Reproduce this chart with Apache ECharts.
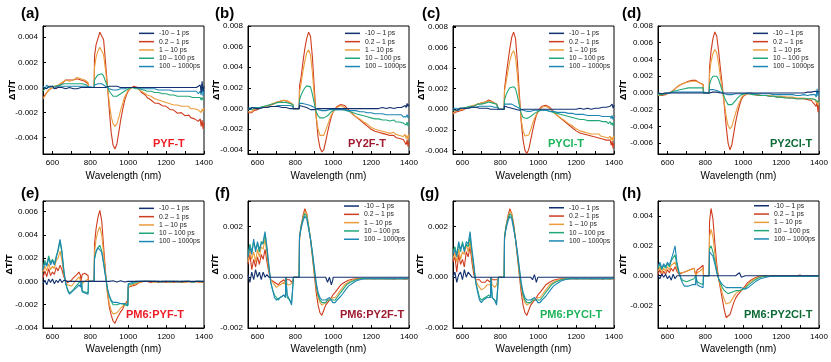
<!DOCTYPE html>
<html><head><meta charset="utf-8">
<script src="https://cdn.jsdelivr.net/npm/echarts@6/dist/echarts.min.js"></script>
<style>html,body{margin:0;padding:0;background:#fff}#c{width:831px;height:362px}</style>
</head><body><div id="c"></div>
<script>
// Wavelength grids (nm)
const wlTop = [550,560,570,580,590,600,610,620,630,640,650,660,670,680,690,700,710,720,730,740,750,760,770,780,788,
790,820,
822,830,840,850,860,870,880,890,900,910,920,930,940,950,960,970,980,990,1000,1010,1020,1030,1040,1050,1060,1070,1080,1090,1100,
1120,1140,1160,1180,1200,1220,1240,1260,1280,1300,
1310,1320,1330,1340,1350,1360,1370,1380,1385,1390,1395,1400];
const wlBot = [550,560,570,580,590,600,610,620,630,640,650,660,670,680,690,700,710,720,730,740,748,
750,756,
757,770,780,788,
790,820,
822,830,840,850,860,870,880,890,900,910,920,930,940,950,960,970,980,990,998,
1000,1010,1020,1030,1040,1050,1060,1070,1080,1090,1100,
1120,1140,1160,1180,1200,1220,1240,1260,1280,1300,1320,1340,1360,1380,1400];

const legendNames = ['-10 \u2013 1 ps','0.2 \u2013 1 ps','1 \u2013 10 ps','10 \u2013 100 ps','100 \u2013 1000ps'];
const panelLetters = ['(a)','(b)','(c)','(d)','(e)','(f)','(g)','(h)'];
const sampleNames = ['PYF-T','PY2F-T','PYCl-T','PY2Cl-T','PM6:PYF-T','PM6:PY2F-T','PM6:PYCl-T','PM6:PY2Cl-T'];

// ΔT/T values, in units of 1e-3
const aNavy = [0.0,0.1,-0.1,0.1,0.0,0.1,-0.1,0.0,0.0,-0.1,0.0,-0.1,-0.1,-0.1,0.0,-0.1,-0.1,0.0,-0.1,-0.1,0.0,-0.1,0.0,0.0,0.0,
0,0,
0.1,0.1,0.0,0.0,0.0,0.0,0.0,0.0,0.1,0.1,0.1,0.0,0.1,0.1,0.0,0.1,0.0,0.1,0,0,0,0,0,0,0,0,0,0,0,
0,0,0,0,0,0,0,0,0,0,
0.0,0.0,0.1,0.0,0.1,0.0,0.1,0.2,-0.4,0.5,-0.3,0.1];
const aRed = [-0.8,-0.6,-0.5,-0.2,-0.3,0.0,0.1,-0.1,0.1,0.2,0.3,0.4,0.6,0.5,0.6,0.5,0.6,0.6,0.7,0.7,0.6,0.6,0.5,0.4,0.3,
0,0,
2.5,3.4,3.9,4.4,4.5,3.8,2.0,0.2,-1.8,-3.6,-4.6,-4.9,-4.5,-3.6,-2.6,-1.8,-1.1,-0.6,-0.3,-0.1,0.0,0.1,0.1,0.0,-0.2,-0.4,-0.5,-0.6,-0.8,
-1.0,-1.25,-1.25,-1.45,-1.5,-1.75,-1.8,-2.05,-2.0,-2.25,
-2.3,-2.2,-2.4,-2.3,-2.5,-2.4,-2.7,-2.5,-3.1,-2.6,-3.3,-2.8];
const aOrange = [-0.9,-0.7,-0.4,-0.3,-0.1,-0.1,0.1,0.0,0.2,0.3,0.4,0.5,0.6,0.6,0.5,0.6,0.6,0.7,0.8,0.8,0.7,0.6,0.6,0.5,0.4,
0,0,
1.6,2.4,2.9,3.2,3.2,2.6,1.4,0.1,-1.2,-2.3,-2.9,-3.1,-2.9,-2.4,-1.8,-1.3,-0.8,-0.5,-0.2,-0.1,0.0,0.1,0.0,-0.1,-0.2,-0.3,-0.4,-0.5,-0.6,
-0.7,-0.9,-1.0,-1.1,-1.2,-1.3,-1.4,-1.4,-1.5,-1.5,
-1.6,-1.5,-1.7,-1.6,-1.7,-1.6,-1.8,-1.7,-2.0,-1.7,-1.9,-1.6];
const aGreen = [-0.3,-0.1,-0.2,0.0,-0.1,0.1,0.0,0.1,0.1,0.2,0.2,0.3,0.3,0.3,0.3,0.3,0.3,0.3,0.3,0.3,0.3,0.3,0.3,0.2,0.2,
0,0,
0.6,0.8,1.0,1.1,1.1,0.9,0.5,0.1,-0.3,-0.5,-0.7,-0.7,-0.7,-0.6,-0.5,-0.4,-0.3,-0.2,-0.1,0.0,0.0,0.0,-0.1,-0.1,-0.1,-0.2,-0.2,-0.2,-0.3,
-0.3,-0.4,-0.4,-0.5,-0.5,-0.6,-0.6,-0.7,-0.7,-0.7,
-0.8,-0.7,-0.8,-0.8,-0.9,-0.8,-0.9,-0.8,-1.0,-0.8,-1.0,-0.9];
const aTeal = [0.1,-0.1,0.2,0.0,0.1,0.1,-0.1,0.1,0.0,0.1,0.1,0.1,0.1,0.1,0.1,0.1,0.1,0.1,0.1,0.1,0.1,0.1,0.1,0.1,0.1,
0,0,
0.2,0.2,0.3,0.3,0.3,0.2,0.1,0.0,-0.1,-0.1,-0.2,-0.2,-0.2,-0.1,-0.1,-0.1,-0.1,0.0,0.0,0.0,0.0,0.0,0.0,0.0,-0.1,-0.1,-0.1,-0.1,-0.1,
-0.1,-0.1,-0.2,-0.2,-0.2,-0.2,-0.3,-0.3,-0.3,-0.3,
-0.4,-0.3,-0.4,-0.3,-0.4,-0.3,-0.5,-0.3,-0.6,0.3,-0.7,-0.2];

const bNavy = [0.1,-0.1,0.1,0.0,0.0,0.1,0.0,0.1,0.1,0.1,0.1,0.2,0.2,0.2,0.2,0.2,0.2,0.1,0.1,0.1,0.1,0.0,0.0,0.0,0.0,
0,0,
0.3,0.2,0.2,0.1,0.1,0.0,-0.1,-0.1,-0.1,-0.1,0,0,0,0,0,0,0,0,0,0,0,0,0,0,0,0,0,0,0,
0,0,0,0,0,0,0,0.1,0,0.1,
0.1,0.0,0.1,0.1,0.2,0.1,0.2,0.3,0.1,0.5,0.2,0.4];
const bRed = [-0.4,-0.3,-0.4,-0.2,-0.2,-0.1,0.0,0.1,0.1,0.2,0.2,0.3,0.4,0.4,0.5,0.6,0.6,0.7,0.8,0.8,0.8,0.7,0.6,0.5,0.3,
0,0,
2.2,3.0,4.5,5.8,6.8,7.4,7.0,5.0,2.0,-0.8,-2.8,-3.8,-4.2,-4.0,-3.2,-2.3,-1.5,-0.8,-0.3,0.0,0.2,0.3,0.4,0.4,0.3,0.1,-0.1,-0.3,-0.5,
-0.8,-1.1,-1.4,-1.7,-2.0,-2.2,-2.3,-2.4,-2.5,-2.6,
-2.7,-2.6,-2.8,-2.7,-2.9,-2.8,-3.0,-2.9,-3.5,-3.0,-3.7,-3.2];
const bOrange = [-0.3,-0.2,-0.3,-0.1,-0.1,0.0,0.0,0.1,0.2,0.2,0.3,0.3,0.4,0.5,0.5,0.6,0.6,0.7,0.7,0.8,0.7,0.7,0.6,0.5,0.4,
0,0,
1.6,2.4,3.6,4.6,5.4,5.7,5.2,3.5,1.2,-0.8,-2.0,-2.6,-2.7,-2.6,-2.1,-1.6,-1.1,-0.6,-0.3,-0.1,0.1,0.2,0.3,0.2,0.1,0.0,-0.2,-0.3,-0.5,
-0.8,-1.0,-1.3,-1.5,-1.8,-2.0,-2.1,-2.2,-2.3,-2.4,
-2.4,-2.3,-2.5,-2.4,-2.6,-2.5,-2.7,-2.5,-2.9,-2.6,-3.0,-2.5];
const bGreen = [-0.1,0.1,-0.1,0.0,0.1,0.0,0.1,0.1,0.2,0.2,0.3,0.3,0.4,0.4,0.5,0.5,0.6,0.6,0.6,0.6,0.6,0.6,0.5,0.5,0.4,
0,0,
0.8,1.3,1.7,2.0,2.2,2.3,2.1,1.4,0.5,-0.3,-0.7,-0.9,-0.9,-0.9,-0.8,-0.7,-0.5,-0.3,-0.2,-0.1,-0.1,-0.1,-0.1,-0.1,-0.2,-0.2,-0.3,-0.3,-0.4,
-0.5,-0.6,-0.7,-0.8,-0.9,-1.0,-1.0,-1.1,-1.1,-1.2,
-1.2,-1.1,-1.3,-1.2,-1.3,-1.2,-1.4,-1.3,-1.6,-1.3,-1.7,-1.4];
const bTeal = [0.1,-0.1,0.1,0.0,0.1,0.1,0.0,0.1,0.1,0.1,0.1,0.2,0.2,0.2,0.2,0.3,0.3,0.3,0.3,0.3,0.3,0.3,0.3,0.2,0.2,
0,0,
0.5,0.5,0.5,0.5,0.4,0.4,0.3,0.2,0.1,0.0,-0.1,-0.2,-0.2,-0.2,-0.2,-0.1,-0.1,-0.1,-0.1,-0.1,-0.1,-0.1,-0.1,-0.1,-0.1,-0.2,-0.2,-0.2,-0.2,
-0.2,-0.3,-0.3,-0.4,-0.4,-0.5,-0.5,-0.5,-0.6,-0.6,
-0.6,-0.6,-0.7,-0.6,-0.7,-0.6,-0.8,-0.7,-0.8,-0.6,-0.9,-0.7];

const cNavy = [0.0,0.1,-0.1,0.0,0.1,0.0,0.1,0.1,0.1,0.1,0.2,0.1,0.2,0.2,0.1,0.2,0.1,0.1,0.1,0.1,0.0,0.1,0.0,0.0,0.0,
0,0,
0.3,0.3,0.2,0.2,0.1,0.1,0.0,-0.1,-0.1,-0.1,0,0,0,0,0,0,0,0,0,0,0,0,0,0,0,0,0,0,0,
0,0,0,0,0,0.1,0,0.1,0,0.1,
0.1,0.1,0.1,0.2,0.1,0.2,0.2,0.3,0.2,0.5,0.1,0.4];
const cRed = [-0.5,-0.3,-0.4,-0.2,-0.1,-0.1,0.0,0.1,0.2,0.2,0.3,0.3,0.4,0.5,0.5,0.6,0.7,0.7,0.8,0.9,0.8,0.7,0.6,0.5,0.4,
0,0,
2.0,3.2,4.6,5.9,7.0,7.5,6.9,4.6,1.6,-1.2,-3.0,-4.0,-4.3,-3.9,-3.0,-2.1,-1.3,-0.6,-0.2,0.1,0.3,0.4,0.4,0.3,0.2,0.0,-0.2,-0.4,-0.6,
-0.9,-1.2,-1.5,-1.8,-2.1,-2.3,-2.4,-2.5,-2.6,-2.7,
-2.7,-2.8,-2.8,-2.9,-2.9,-3.0,-3.1,-3.0,-3.5,-3.1,-3.8,-3.3];
const cOrange = [-0.4,-0.2,-0.3,-0.1,-0.1,0.0,0.1,0.1,0.2,0.3,0.3,0.4,0.4,0.5,0.6,0.6,0.6,0.7,0.8,0.8,0.7,0.7,0.6,0.5,0.4,
0,0,
1.8,2.6,3.7,4.7,5.4,5.7,5.1,3.3,1.0,-1.0,-2.1,-2.6,-2.7,-2.5,-2.0,-1.4,-0.9,-0.5,-0.2,0.0,0.2,0.3,0.3,0.2,0.1,-0.1,-0.3,-0.4,-0.6,
-0.9,-1.1,-1.4,-1.6,-1.9,-2.1,-2.2,-2.3,-2.4,-2.4,
-2.5,-2.4,-2.6,-2.5,-2.7,-2.6,-2.8,-2.6,-3.0,-2.7,-3.1,-2.6];
const cGreen = [-0.1,0.0,-0.1,0.1,0.0,0.1,0.1,0.2,0.2,0.3,0.3,0.3,0.4,0.5,0.5,0.5,0.6,0.6,0.6,0.7,0.6,0.6,0.5,0.5,0.4,
0,0,
0.9,1.4,1.8,2.1,2.2,2.2,2.0,1.3,0.4,-0.4,-0.8,-0.9,-0.9,-0.8,-0.7,-0.6,-0.4,-0.3,-0.2,-0.1,-0.1,-0.1,-0.1,-0.2,-0.2,-0.3,-0.3,-0.4,-0.4,
-0.5,-0.6,-0.7,-0.8,-0.9,-1.0,-1.0,-1.1,-1.1,-1.1,
-1.2,-1.1,-1.2,-1.2,-1.3,-1.2,-1.4,-1.2,-1.5,-1.3,-1.6,-1.3];
const cTeal = [0.1,0.0,0.1,-0.1,0.1,0.1,0.1,0.1,0.1,0.2,0.2,0.2,0.2,0.2,0.3,0.3,0.3,0.3,0.3,0.3,0.3,0.3,0.2,0.2,0.2,
0,0,
0.5,0.6,0.5,0.5,0.5,0.4,0.3,0.2,0.1,0.0,-0.1,-0.2,-0.2,-0.2,-0.2,-0.2,-0.1,-0.1,-0.1,-0.1,-0.1,-0.1,-0.1,-0.1,-0.2,-0.2,-0.2,-0.2,-0.3,
-0.3,-0.3,-0.4,-0.4,-0.5,-0.5,-0.5,-0.6,-0.6,-0.6,
-0.7,-0.6,-0.7,-0.7,-0.8,-0.7,-0.8,-0.7,-0.9,-0.6,-1.0,-0.8];

const dNavy = [0.0,0.0,-0.1,0.0,0.0,0.0,0.0,0.0,0.0,0.0,0.0,0.0,0.0,0.0,0.0,0.0,0.0,0.0,0.0,0.0,0.0,0.0,0.0,0.0,0.0,
0,0,
0.2,0.2,0.1,0.1,0.1,0,0,0,0,0,0,0,0,0,0,0,0,0,0,0,0,0,0,0,0,0,0,0,0,
0,0,0,0,0,0,0,0,0,0,
0.0,0.0,0.0,0.1,0.0,0.1,0.0,0.2,0.0,0.3,0.1,0.2];
const dRed = [-0.3,-0.2,-0.3,-0.2,-0.2,-0.1,0.0,0.1,0.3,0.5,0.7,0.9,1.0,1.1,1.2,1.3,1.4,1.4,1.5,1.4,1.5,1.3,1.2,1.1,1.0,
0,0,
3.0,5.0,6.5,7.3,6.8,5.0,2.8,0.8,-1.5,-4.0,-6.0,-6.8,-6.2,-4.8,-3.5,-2.4,-1.5,-0.8,-0.4,-0.2,-0.1,-0.1,-0.1,-0.2,-0.2,-0.2,-0.3,-0.3,-0.3,
-0.3,-0.4,-0.4,-0.5,-0.5,-0.5,-0.6,-0.6,-0.7,-0.7,
-0.8,-0.7,-0.9,-0.8,-1.0,-0.9,-1.2,-1.0,-1.6,-1.1,-2.3,-1.5];
const dOrange = [-0.3,-0.3,-0.2,-0.2,-0.1,-0.1,0.0,0.2,0.3,0.5,0.7,0.9,1.0,1.1,1.2,1.3,1.3,1.4,1.4,1.5,1.4,1.3,1.2,1.1,1.0,
0,0,
2.2,3.7,4.7,5.2,4.8,3.5,1.8,0.3,-1.2,-2.8,-3.9,-4.3,-4.0,-3.2,-2.4,-1.7,-1.1,-0.6,-0.3,-0.2,-0.1,-0.1,-0.1,-0.1,-0.2,-0.2,-0.2,-0.2,-0.3,
-0.3,-0.3,-0.4,-0.4,-0.4,-0.5,-0.5,-0.5,-0.6,-0.6,
-0.7,-0.6,-0.7,-0.7,-0.8,-0.7,-0.9,-0.8,-1.2,-0.9,-1.5,-1.0];
const dGreen = [-0.2,-0.1,-0.2,-0.1,-0.1,0.0,0.0,0.1,0.2,0.2,0.3,0.4,0.4,0.5,0.5,0.6,0.6,0.6,0.6,0.6,0.6,0.6,0.6,0.6,0.6,
0,0,
1.0,1.6,2.0,2.1,2.0,1.6,0.9,0.2,-0.5,-1.0,-1.4,-1.5,-1.4,-1.2,-0.9,-0.6,-0.4,-0.2,-0.1,-0.1,-0.1,-0.1,-0.1,-0.2,-0.2,-0.2,-0.3,-0.3,-0.3,
-0.3,-0.4,-0.4,-0.5,-0.5,-0.6,-0.6,-0.6,-0.7,-0.7,
-0.7,-0.7,-0.8,-0.7,-0.8,-0.7,-0.9,-0.8,-1.0,-0.7,-1.1,-0.9];
const dTeal = [0.0,0.1,-0.1,0.1,0.0,0.1,0.0,0.1,0.1,0.1,0.1,0.1,0.1,0.1,0.1,0.1,0.1,0.1,0.1,0.1,0.1,0.1,0.1,0.1,0.1,
0,0,
0.4,0.4,0.4,0.3,0.3,0.2,0.1,0.0,-0.1,-0.2,-0.2,-0.2,-0.2,-0.2,-0.1,-0.1,-0.1,-0.1,-0.1,0.0,0.0,0.0,0.0,-0.1,-0.1,-0.1,-0.1,-0.1,-0.1,
-0.1,-0.1,-0.2,-0.2,-0.2,-0.2,-0.2,-0.2,-0.3,-0.3,
-0.3,-0.2,-0.3,-0.3,-0.3,-0.2,-0.4,-0.2,-0.5,0.5,-0.4,0.2];

const eNavy = [-0.2,0.1,-0.3,0.2,-0.1,0.2,-0.2,0.1,-0.1,0.2,-0.1,0.1,0,0,0,0,0,0,0,0,0,
0,0, 0,0,0,0, 0,0,
0,0,0,0,0,0,0,0,0,0,0.05,0,-0.05,0,0.05,0,-0.05,0.05,0,
0,0,0,0,0,0,0,0,0,0,0,
0,0,0,0,0,0,0,0,0,0,0,0,0,0,0];
const eRed = [0.3,0.9,0.4,1.1,0.5,0.8,0.6,1.2,0.9,1.4,1.0,0.4,0.1,-0.1,0.0,0.1,0.3,0.4,0.6,0.8,0.5,
0,0, 0.6,0.7,0.6,0.5, 0,0,
3.2,4.5,5.5,6.1,5.2,3.0,0.8,-1.0,-2.2,-2.9,-3.4,-3.6,-3.2,-2.9,-2.6,-2.4,-2.0,-1.8,-1.6,
-0.5,-0.4,-0.4,-0.3,-0.3,-0.2,-0.1,-0.1,0.0,0.0,0.0,
-0.1,0.0,-0.1,0.0,-0.1,0.0,-0.1,0.0,-0.1,-0.1,0.0,-0.1,0.0,-0.1,-0.1];
const eOrange = [0.8,1.3,0.9,1.5,1.0,1.3,1.1,1.8,2.0,2.6,1.8,0.6,-0.1,-0.3,-0.4,-0.4,-0.2,0.0,0.2,0.4,0.3,
0,0, -0.2,0.0,0.1,0.2, 0,0,
2.5,3.6,4.3,4.7,4.0,2.4,0.6,-0.9,-1.9,-2.5,-2.8,-2.9,-2.7,-2.5,-2.3,-2.2,-2.0,-1.9,-1.8,
-0.5,-0.4,-0.3,-0.3,-0.2,-0.2,-0.1,-0.1,0.0,0.0,0.0,
0.0,-0.1,0.0,-0.1,0.0,-0.1,0.0,-0.1,0.0,-0.1,0.0,-0.1,0.0,-0.1,0.0];
const eGreen = [1.2,1.8,1.4,2.2,1.6,1.9,1.5,2.2,2.6,3.5,2.4,0.8,-0.2,-0.7,-1.0,-0.9,-0.7,-0.5,-0.3,-0.1,-0.2,
0,0, -0.8,-0.9,-0.9,-1.0, 0,0,
2.0,2.6,2.9,3.1,2.6,1.6,0.5,-0.6,-1.3,-1.7,-2.0,-2.1,-2.0,-2.0,-1.9,-1.9,-2.0,-2.0,-2.1,
-0.3,-0.2,-0.2,-0.1,-0.1,-0.1,0.0,0.0,0.0,0.0,0.0,
0.0,0.0,-0.05,0.0,0.0,-0.05,0.0,0.0,-0.05,0.0,0.0,-0.05,0.0,0.0,-0.05];
const eTeal = [1.0,1.6,1.3,2.0,1.4,1.8,1.4,2.0,2.8,3.6,2.6,1.0,-0.2,-0.8,-1.1,-1.0,-0.8,-0.7,-0.5,-0.3,-0.5,
0,0, -0.9,-1.0,-1.0,-1.1, 0,0,
1.9,2.5,2.9,3.0,2.5,1.5,0.4,-0.6,-1.2,-1.6,-1.8,-1.9,-1.8,-1.8,-1.9,-1.8,-1.9,-2.0,-2.0,
-0.2,-0.1,-0.1,-0.1,0.0,0.0,0.0,0.0,0.0,0.0,0.0,
0.0,0.0,0.0,-0.05,0.0,0.0,0.0,-0.05,0.0,0.0,0.0,-0.05,0.0,0.0,0.0];

const fNavy = [0.1,-0.2,0.2,-0.1,0.3,0.0,0.2,-0.1,0.2,0.0,0.1,0.0,0,0,0,0,0,0,0,0,0,
0,0, 0,0,0,0, 0,0,
0,0,0,0,0,0,0,0,0,0,0,0,0,-0.05,0,-0.2,0.0,-0.3,-0.1,
0,0,0,0,0,0,0,0,0,0,0,
0,0,0,0,0,0,0,0,0,0,0,0,0,0,0];
const fRed = [0.5,0.9,0.3,0.7,0.4,0.8,0.5,0.9,0.7,1.1,0.6,0.2,-0.1,-0.1,-0.2,-0.2,-0.3,-0.2,-0.2,-0.1,-0.2,
0,0, -0.1,-0.1,-0.2,-0.1, 0,0,
1.5,2.0,2.4,2.7,2.5,2.0,1.5,0.8,0.1,-0.6,-1.1,-1.4,-1.5,-1.3,-1.1,-1.0,-0.9,-0.8,-0.7,
-0.7,-0.6,-0.5,-0.4,-0.3,-0.25,-0.2,-0.15,-0.12,-0.1,-0.08,
-0.06,-0.05,-0.05,-0.06,-0.05,-0.07,-0.05,-0.06,-0.07,-0.05,-0.08,-0.06,-0.05,-0.08,-0.06];
const fOrange = [0.6,1.1,0.7,1.0,0.6,1.1,0.8,1.2,1.1,1.5,0.9,0.3,-0.1,-0.2,-0.3,-0.4,-0.4,-0.3,-0.3,-0.2,-0.3,
0,0, -0.3,-0.3,-0.3,-0.2, 0,0,
1.6,2.0,2.3,2.6,2.5,2.0,1.5,0.9,0.2,-0.4,-0.8,-1.0,-1.1,-1.1,-1.0,-0.9,-0.9,-0.9,-0.8,
-0.8,-0.8,-0.7,-0.6,-0.5,-0.4,-0.3,-0.25,-0.2,-0.15,-0.12,
-0.08,-0.06,-0.05,-0.06,-0.05,-0.06,-0.05,-0.07,-0.05,-0.06,-0.07,-0.05,-0.06,-0.08,-0.05];
const fGreen = [0.9,1.3,1.0,1.4,1.1,1.3,1.0,1.4,1.3,1.7,1.1,0.4,-0.2,-0.5,-0.7,-0.8,-0.9,-0.8,-0.8,-0.7,-0.8,
0,0, -0.8,-0.9,-1.0,-1.0, 0,0,
1.6,2.0,2.3,2.5,2.4,2.0,1.5,0.9,0.3,-0.3,-0.7,-0.9,-1.0,-1.0,-1.0,-0.9,-0.9,-0.9,-0.9,
-0.9,-0.9,-0.8,-0.7,-0.6,-0.5,-0.4,-0.3,-0.25,-0.2,-0.15,
-0.1,-0.07,-0.05,-0.06,-0.05,-0.06,-0.05,-0.06,-0.05,-0.07,-0.05,-0.06,-0.05,-0.06,-0.05];
const fTeal = [0.8,1.2,0.9,1.5,1.0,1.4,1.1,1.3,1.4,1.8,1.2,0.5,-0.2,-0.5,-0.8,-0.9,-0.9,-0.8,-0.8,-0.7,-0.8,
0,0, -0.7,-0.9,-1.1,-1.1, 0,0,
1.6,1.9,2.2,2.4,2.3,1.9,1.5,1.0,0.4,-0.2,-0.6,-0.8,-0.9,-0.9,-0.9,-0.9,-0.8,-0.9,-1.0,
-1.0,-1.0,-0.9,-0.85,-0.75,-0.65,-0.55,-0.45,-0.35,-0.3,-0.25,
-0.15,-0.1,-0.07,-0.06,-0.05,-0.06,-0.05,-0.06,-0.05,-0.06,-0.05,-0.06,-0.05,-0.06,-0.05];

const gNavy = [0.0,0.2,-0.2,0.1,0.2,-0.1,0.3,0.0,0.2,0.1,0.0,0.0,0,0,0,0,0,0,0,0,0,
0,0, 0,0,0,0, 0,0,
0,0,0,0,0,0,0,0,0,0,0,0,0,0,0,-0.1,0.1,-0.2,0.0,
0,0,0,0,0,0,0,0,0,0,0,
0,0,0,0,0,0,0,0,0,0,0,0,0,0,0];
const gRed = [0.6,0.8,0.2,0.9,0.5,0.7,0.4,1.0,0.8,1.2,0.6,0.1,-0.1,-0.1,-0.1,-0.2,-0.2,-0.2,-0.1,-0.1,-0.2,
0,0, -0.1,-0.1,-0.1,-0.1, 0,0,
1.5,2.0,2.4,2.7,2.5,2.1,1.5,0.8,0.1,-0.6,-1.1,-1.4,-1.5,-1.3,-1.1,-1.0,-0.9,-0.8,-0.7,
-0.7,-0.6,-0.5,-0.4,-0.3,-0.25,-0.2,-0.15,-0.12,-0.1,-0.08,
-0.06,-0.05,-0.06,-0.05,-0.07,-0.05,-0.06,-0.05,-0.07,-0.06,-0.05,-0.08,-0.05,-0.06,-0.07];
const gOrange = [0.7,1.0,0.6,1.1,0.7,1.0,0.9,1.3,1.0,1.4,0.8,0.3,-0.1,-0.3,-0.4,-0.5,-0.5,-0.4,-0.3,-0.3,-0.3,
0,0, -0.3,-0.4,-0.3,-0.3, 0,0,
1.6,2.0,2.3,2.6,2.5,2.0,1.5,0.9,0.2,-0.4,-0.8,-1.0,-1.1,-1.1,-1.0,-0.9,-0.9,-0.9,-0.8,
-0.8,-0.8,-0.7,-0.6,-0.5,-0.4,-0.3,-0.25,-0.2,-0.15,-0.12,
-0.08,-0.06,-0.05,-0.06,-0.05,-0.06,-0.05,-0.07,-0.05,-0.06,-0.07,-0.05,-0.06,-0.08,-0.05];
const gGreen = [1.0,1.2,0.9,1.3,1.0,1.4,1.1,1.3,1.2,1.6,1.0,0.4,-0.2,-0.5,-0.8,-0.9,-0.9,-0.8,-0.8,-0.7,-0.8,
0,0, -0.8,-0.9,-1.0,-1.0, 0,0,
1.6,2.0,2.3,2.5,2.4,2.0,1.5,0.9,0.3,-0.3,-0.7,-0.9,-1.0,-1.0,-1.0,-0.9,-0.9,-0.9,-0.9,
-0.9,-0.9,-0.8,-0.7,-0.6,-0.5,-0.4,-0.3,-0.25,-0.2,-0.15,
-0.1,-0.07,-0.05,-0.06,-0.05,-0.06,-0.05,-0.06,-0.05,-0.07,-0.05,-0.06,-0.05,-0.06,-0.05];
const gTeal = [0.9,1.1,0.8,1.4,1.1,1.3,1.0,1.4,1.3,1.8,1.1,0.5,-0.2,-0.6,-0.9,-1.0,-0.9,-0.9,-0.8,-0.8,-0.8,
0,0, -0.8,-0.9,-1.1,-1.1, 0,0,
1.6,1.9,2.2,2.4,2.3,1.9,1.5,1.0,0.4,-0.2,-0.6,-0.8,-0.9,-0.9,-0.9,-0.9,-0.8,-0.9,-1.0,
-1.0,-1.0,-0.9,-0.85,-0.75,-0.65,-0.55,-0.45,-0.35,-0.3,-0.25,
-0.15,-0.1,-0.07,-0.06,-0.05,-0.06,-0.05,-0.06,-0.05,-0.06,-0.05,-0.06,-0.05,-0.06,-0.05];

const hNavy = [0.0,-0.2,0.1,-0.1,0.1,-0.2,0.0,-0.3,0.1,-0.2,0.0,0.0,0,0,0,0,0,0,0,0,0,
0,0, 0,0,0,0, 0,0,
0,0,0,0,0,0,0,0,0,0,0,0,0,0,0,0,0.2,-0.1,0,
0,0,0,0,0,0,0,0,0,0,0,
0,0,0,0,0,0,0,0,0,0,0,0,0,0,0];
const hRed = [0.1,0.4,0.0,0.3,0.1,0.4,0.2,0.5,0.3,0.6,0.3,0.1,0.1,0.2,0.3,0.3,0.4,0.4,0.5,0.5,0.4,
0,0, 0.4,0.5,0.6,0.7, 0,0,
3.6,4.5,3.8,2.2,0.8,-0.2,-0.9,-1.6,-2.3,-2.8,-2.9,-2.6,-2.2,-1.8,-1.5,-1.3,-1.2,-1.0,-0.9,
-0.9,-0.7,-0.5,-0.4,-0.3,-0.2,-0.15,-0.1,-0.05,0.0,0.0,
0.0,-0.05,0.0,-0.05,0.0,-0.05,0.0,-0.05,0.0,0.05,-0.05,0.0,-0.05,0.0,-0.05];
const hOrange = [0.3,0.6,0.2,0.5,0.3,0.6,0.4,0.7,0.6,0.9,0.5,0.2,0.2,0.2,0.3,0.3,0.4,0.4,0.4,0.5,0.4,
0,0, 0.2,0.3,0.4,0.5, 0,0,
2.6,3.1,2.6,1.5,0.5,-0.2,-0.7,-1.2,-1.6,-1.9,-2.0,-1.8,-1.6,-1.4,-1.2,-1.1,-1.0,-0.9,-0.9,
-0.9,-0.8,-0.6,-0.5,-0.4,-0.3,-0.2,-0.15,-0.1,-0.05,0.0,
-0.05,0.0,-0.05,0.0,-0.05,0.0,-0.05,0.0,-0.05,0.0,-0.05,0.0,-0.05,0.0,-0.05];
const hGreen = [0.5,0.8,0.4,0.7,0.5,0.8,0.6,1.0,1.2,1.4,0.7,0.2,-0.1,-0.3,-0.4,-0.4,-0.3,-0.3,-0.2,-0.2,-0.3,
0,0, -0.4,-0.5,-0.5,-0.6, 0,0,
1.8,2.0,1.6,1.0,0.3,-0.2,-0.5,-0.8,-1.0,-1.1,-1.2,-1.2,-1.1,-1.1,-1.0,-1.0,-1.0,-0.9,-0.9,
-0.9,-0.85,-0.7,-0.6,-0.5,-0.4,-0.3,-0.2,-0.15,-0.1,-0.07,
-0.05,-0.05,0.0,-0.05,0.0,-0.05,0.0,-0.05,0.0,-0.05,0.0,-0.05,0.0,-0.05,0.0];
const hTeal = [0.6,0.9,0.5,0.8,0.6,0.9,0.7,1.1,1.5,2.0,0.9,0.3,-0.2,-0.5,-0.7,-0.8,-0.7,-0.6,-0.6,-0.5,-0.6,
0,0, -0.6,-0.7,-0.8,-0.8, 0,0,
1.6,1.7,1.3,0.8,0.2,-0.2,-0.4,-0.6,-0.7,-0.8,-0.8,-0.8,-0.8,-0.8,-0.8,-0.8,-0.8,-0.8,-0.9,
-0.9,-0.9,-0.8,-0.75,-0.65,-0.55,-0.45,-0.35,-0.25,-0.2,-0.15,
-0.1,-0.05,-0.05,0.0,-0.05,0.0,-0.05,0.0,-0.05,0.0,-0.05,0.0,-0.05,0.0,-0.05];

// y-axis ranges (units 1e-3)
const yMins = [-5.3,-4.4,-4.35,-7.3,-4,-2,-2,-3.5];
const yMaxs = [4.9,8,8.1,8,6.9,3,3,5];

const panelData = [
  {wl: wlTop, s:[aNavy,aRed,aOrange,aGreen,aTeal], n:'a'},
  {wl: wlTop, s:[bNavy,bRed,bOrange,bGreen,bTeal], n:'b'},
  {wl: wlTop, s:[cNavy,cRed,cOrange,cGreen,cTeal], n:'c'},
  {wl: wlTop, s:[dNavy,dRed,dOrange,dGreen,dTeal], n:'d'},
  {wl: wlBot, s:[eNavy,eRed,eOrange,eGreen,eTeal], n:'e'},
  {wl: wlBot, s:[fNavy,fRed,fOrange,fGreen,fTeal], n:'f'},
  {wl: wlBot, s:[gNavy,gRed,gOrange,gGreen,gTeal], n:'g'},
  {wl: wlBot, s:[hNavy,hRed,hOrange,hGreen,hTeal], n:'h'}
];
panelData.forEach(p => p.s.forEach((arr, j) => {
  if (arr.length !== p.wl.length) throw new Error('length mismatch panel ' + p.n + ' series ' + j + ': ' + arr.length + ' vs ' + p.wl.length);
}));

// ---- layout / style ----
const colors = ['#12306e','#cf3d1f','#eb9d3c','#22a877','#1d87b3'];
const FONT = '"Liberation Sans", Arial, sans-serif';
const L = [
  {l:43,  t:26,  h:128, legL:139, legT:29.2, lx:21,  ly:15,  sx:153, sy:145,   sc:'#ee1c24', yGap:25.5, xGap:17},
  {l:248, t:26,  h:128, legL:345, legT:29.2, lx:215, ly:15,  sx:348, sy:145.5, sc:'#9e1a2e', yGap:26.5, xGap:17},
  {l:453, t:26,  h:128, legL:549, legT:29.2, lx:422, ly:15,  sx:548, sy:145,   sc:'#1cb45a', yGap:26.5, xGap:17},
  {l:658, t:26,  h:128, legL:753, legT:29.2, lx:622, ly:15,  sx:770, sy:145,   sc:'#0c6a36', yGap:29.5, xGap:17},
  {l:43,  t:201, h:127, legL:139, legT:204.2,lx:21,  ly:195, sx:126, sy:316.7, sc:'#ee1c24', yGap:28.5, xGap:16.7},
  {l:248, t:201, h:127, legL:344, legT:201.9,lx:215, ly:195, sx:340, sy:316.7, sc:'#9e1a2e', yGap:28,   xGap:16.7},
  {l:453, t:201, h:127, legL:549, legT:203.6,lx:420, ly:195, sx:540, sy:316.7, sc:'#1cb45a', yGap:28,   xGap:16.7},
  {l:658, t:201, h:127, legL:754, legT:201.6,lx:622, ly:195, sx:744, sy:316.7, sc:'#0c6a36', yGap:29.5, xGap:16.7}
];

const grids = [], xAxes = [], yAxes = [], series = [], legends = [], graphics = [];
const drawOrder = [1,2,3,4,0];
L.forEach((g, i) => {
  grids.push({left:g.l, top:g.t, width:161, height:g.h, show:true, borderColor:'#000', borderWidth:1,
    backgroundColor:'transparent', containLabel:false, outerBoundsMode:'none'});
  xAxes.push({type:'value', gridIndex:i, min:550, max:1400, minInterval:100, maxInterval:100,
    axisLine:{show:true, onZero:false, lineStyle:{color:'#000', width:1}},
    axisTick:{show:true, inside:true, length:3, lineStyle:{color:'#000', width:1}},
    axisLabel:{fontSize:8, color:'#000', margin:5, fontFamily:FONT,
      formatter: v => (Math.round(v) % 200 === 0 ? String(Math.round(v)) : '')},
    splitLine:{show:false},
    name:'Wavelength (nm)', nameLocation:'middle', nameGap:g.xGap, nameMoveOverlap:false,
    nameTextStyle:{fontSize:10, color:'#000', fontFamily:FONT}});
  yAxes.push({type:'value', gridIndex:i, min:yMins[i], max:yMaxs[i], minInterval:2, maxInterval:2,
    axisLine:{show:true, onZero:false, lineStyle:{color:'#000', width:1}},
    axisTick:{show:true, inside:true, length:3, lineStyle:{color:'#000', width:1}},
    axisLabel:{fontSize:8, color:'#000', margin:5, fontFamily:FONT,
      formatter: v => (Math.abs(v/2 - Math.round(v/2)) < 1e-6 ? (v/1000).toFixed(3) : '')},
    splitLine:{show:false},
    name:'\u0394T/T', nameLocation:'middle', nameRotate:90, nameGap:g.yGap, nameMoveOverlap:false,
    nameTextStyle:{fontSize:9, fontWeight:'bold', color:'#000', fontFamily:FONT}});
  const p = panelData[i];
  drawOrder.forEach(j => {
    series.push({type:'line', name:legendNames[j], xAxisIndex:i, yAxisIndex:i,
      data: p.wl.map((w, k) => [w, p.s[j][k]]),
      showSymbol:false, symbol:'none', silent:true, animation:false, clip:true,
      lineStyle:{color:colors[j], width:1.1}, itemStyle:{color:colors[j]},
      emphasis:{disabled:true}});
  });
  legends.push({data:legendNames.slice(), orient:'vertical', left:g.legL, top:g.legT,
    itemWidth:15, itemHeight:1.5, itemGap:0, padding:0, icon:'rect', selectedMode:false,
    textStyle:{fontSize:6.8, color:'#222', lineHeight:8.3, fontFamily:FONT}});
  graphics.push({type:'text', left:g.lx, top:g.ly - 9, silent:true,
    style:{text:panelLetters[i], fill:'#000', font:'bold 15px ' + FONT}});
  graphics.push({type:'text', left:g.sx, top:g.sy - 7, silent:true,
    style:{text:sampleNames[i], fill:g.sc, font:'bold 11px ' + FONT}});
});

const chart = echarts.init(document.getElementById('c'), null, {renderer:'canvas', width:831, height:362});
chart.setOption({
  backgroundColor:'#fff',
  animation:false,
  textStyle:{fontFamily:FONT},
  grid:grids, xAxis:xAxes, yAxis:yAxes, series:series, legend:legends, graphic:graphics
});
</script></body></html>
